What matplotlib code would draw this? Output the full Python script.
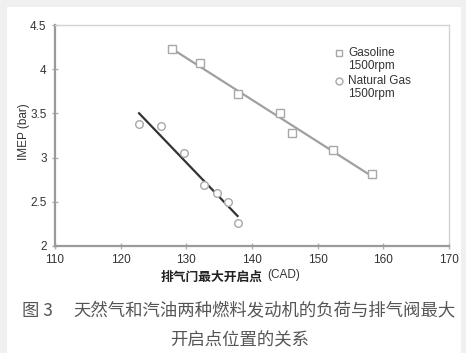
import numpy as np
import matplotlib
matplotlib.use("Agg")
import matplotlib.pyplot as plt
from matplotlib.patches import Rectangle
from matplotlib.lines import Line2D

gas_x = [127.8, 132.1, 137.8, 144.2, 146.1, 152.3, 158.2]
gas_y = [4.23, 4.07, 3.72, 3.50, 3.28, 3.09, 2.81]
ng_x = [122.8, 126.1, 129.6, 132.7, 134.6, 136.3, 137.8]
ng_y = [3.38, 3.36, 3.05, 2.69, 2.60, 2.50, 2.26]
x_ticks = [110, 120, 130, 140, 150, 160, 170]
y_ticks = [2, 2.5, 3, 3.5, 4, 4.5]
y_tick_labels = ["2", "2.5", "3", "3.5", "4", "4.5"]
legend_labels = ["Gasoline\n1500rpm", "Natural Gas\n1500rpm"]
legend_markers = ['s', 'o']

plt.rcParams['font.family'] = ['Liberation Sans', 'DejaVu Sans']
W, H = 466, 353
fig = plt.figure(figsize=(W / 100, H / 100), dpi=100, facecolor='#f0f0f0')
fig.patches.append(Rectangle((7 / W, 0), (461 - 7) / W, 1 - 7 / H, transform=fig.transFigure,
                             facecolor='white', edgecolor='none', zorder=-5))

ax = fig.add_axes([55 / W, 1 - 246 / H, (449 - 55) / W, (246 - 25) / H])
ax.set_zorder(2)
ax.set_facecolor('white')
ax.set_xlim(110, 170)
ax.set_ylim(2, 4.5)
ax.set_xticks(x_ticks)
ax.set_yticks(y_ticks)
ax.set_yticklabels(y_tick_labels)
for s in ['left', 'bottom']:
    ax.spines[s].set_color('#9a9a9a')
    ax.spines[s].set_linewidth(1.6)
for s in ['top', 'right']:
    ax.spines[s].set_color('#d4d4d4')
    ax.spines[s].set_linewidth(1.0)
ax.tick_params(direction='inout', length=4, width=1, color='#b0b0b0',
               labelsize=8.5, labelcolor='#333333')
ax.tick_params(axis='x', pad=4)
ax.tick_params(axis='y', pad=4)

# trend lines
for xs, ys, c, lw in [(gas_x, gas_y, '#a0a0a0', 1.6), (ng_x, ng_y, '#333333', 1.6)]:
    k, b = np.polyfit(xs, ys, 1)
    xx = np.array([min(xs), max(xs)])
    ax.plot(xx, k * xx + b, color=c, lw=lw, zorder=2)

ax.plot(gas_x, gas_y, ls='none', marker='s', ms=5.5, mfc='white', mec='#a8a8a8', mew=1.0, zorder=3)
ax.plot(ng_x, ng_y, ls='none', marker='o', ms=5.5, mfc='white', mec='#a8a8a8', mew=1.0, zorder=3)

# legend (marker aligned with first text line, as in the reference)
for i, (lab, mk) in enumerate(zip(legend_labels, legend_markers)):
    y0 = 53 + i * 28
    fig.add_artist(Line2D([339 / W], [1 - y0 / H], transform=fig.transFigure, ls='none',
                          marker=mk, ms=5, mfc='white', mec='#a8a8a8', mew=1.0, zorder=6))
    fig.text(348 / W, 1 - (y0 - 6) / H, lab, fontsize=8.5, color='#333333',
             ha='left', va='top', linespacing=1.1, zorder=6)

ax.set_ylabel("IMEP (bar)", fontsize=8.5, color='#333333')
ax.yaxis.set_label_coords((30 - 55) / 394, (246 - 132) / 221)

fig.text(212 / W, 1 - 277 / H, "排气门最大开启点", family=['Noto Sans CJK SC', 'DejaVu Sans'],
         fontsize=9.2, weight='bold', color='#222222', ha='center', va='center')
fig.text(267 / W, 1 - 275 / H, "(CAD)", fontsize=8.5, color='#333333', ha='left', va='center')

cap_font = ['Noto Sans CJK SC', 'DejaVu Sans']
fig.text(22 / W, 1 - 311 / H, "图 3", family=cap_font, fontsize=12.5, color='#555555',
         ha='left', va='center')
fig.text(456 / W, 1 - 311 / H, "天然气和汽油两种燃料发动机的负荷与排气阀最大", family=cap_font,
         fontsize=12.5, color='#555555', ha='right', va='center')
fig.text(240 / W, 1 - 339 / H, "开启点位置的关系", family=cap_font, fontsize=12.5,
         color='#555555', ha='center', va='center')

fig.savefig("out.png", dpi=100, facecolor=fig.get_facecolor())
